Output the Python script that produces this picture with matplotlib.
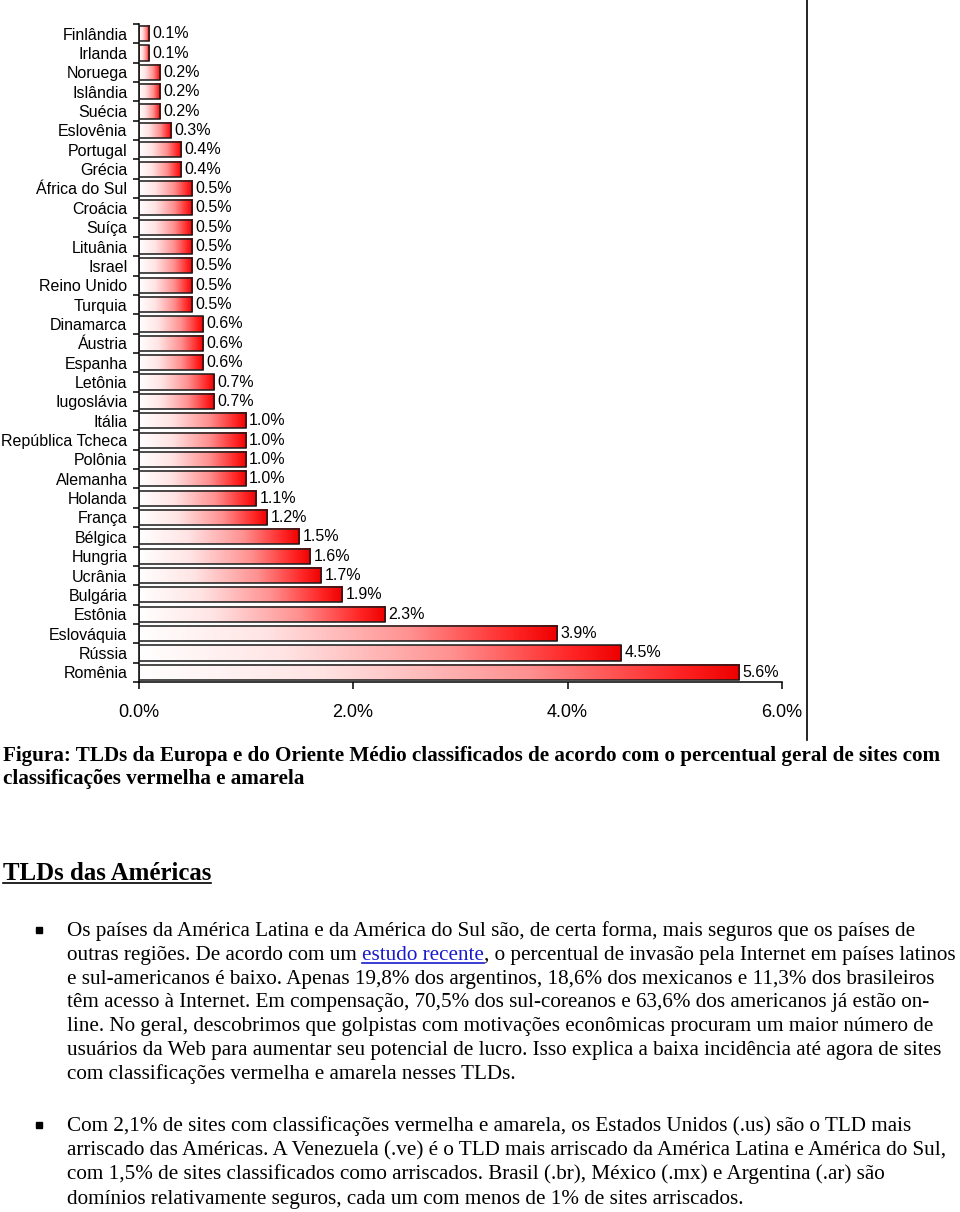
import matplotlib
matplotlib.use("Agg")
from matplotlib import pyplot as plt
from matplotlib.colors import LinearSegmentedColormap
from matplotlib.lines import Line2D
from matplotlib.patches import Rectangle
import numpy as np

# dados do gráfico
paises = ["Finlândia", "Irlanda", "Noruega", "Islândia", "Suécia", "Eslovênia",
          "Portugal", "Grécia", "África do Sul", "Croácia", "Suíça", "Lituânia",
          "Israel", "Reino Unido", "Turquia", "Dinamarca", "Áustria", "Espanha",
          "Letônia", "Iugoslávia", "Itália", "República Tcheca", "Polônia",
          "Alemanha", "Holanda", "França", "Bélgica", "Hungria", "Ucrânia",
          "Bulgária", "Estônia", "Eslováquia", "Rússia", "Romênia"]
percentual = [0.1, 0.1, 0.2, 0.2, 0.2, 0.3, 0.4, 0.4, 0.5, 0.5, 0.5, 0.5,
              0.5, 0.5, 0.5, 0.6, 0.6, 0.6, 0.7, 0.7, 1.0, 1.0, 1.0, 1.0,
              1.1, 1.2, 1.5, 1.6, 1.7, 1.9, 2.3, 3.9, 4.5, 5.6]
xticks = [0.0, 2.0, 4.0, 6.0]

legenda = ["Figura: TLDs da Europa e do Oriente Médio classificados de acordo com o percentual geral de sites com",
           "classificações vermelha e amarela"]
titulo = "TLDs das Américas"
item1 = ["Os países da América Latina e da América do Sul são, de certa forma, mais seguros que os países de",
         ["outras regiões. De acordo com um ", "estudo recente", ", o percentual de invasão pela Internet em países latinos"],
         "e sul-americanos é baixo. Apenas 19,8% dos argentinos, 18,6% dos mexicanos e 11,3% dos brasileiros",
         "têm acesso à Internet. Em compensação, 70,5% dos sul-coreanos e 63,6% dos americanos já estão on-",
         "line. No geral, descobrimos que golpistas com motivações econômicas procuram um maior número de",
         "usuários da Web para aumentar seu potencial de lucro. Isso explica a baixa incidência até agora de sites",
         "com classificações vermelha e amarela nesses TLDs."]
item2 = ["Com 2,1% de sites com classificações vermelha e amarela, os Estados Unidos (.us) são o TLD mais",
         "arriscado das Américas. A Venezuela (.ve) é o TLD mais arriscado da América Latina e América do Sul,",
         "com 1,5% de sites classificados como arriscados. Brasil (.br), México (.mx) e Argentina (.ar) são",
         "domínios relativamente seguros, cada um com menos de 1% de sites arriscados."]

W, H = 960, 1212
fig = plt.figure(figsize=(W / 100, H / 100), dpi=100)
fig.patch.set_facecolor("white")

# ---- gráfico de barras ----
L, R, T, B = 138.5, 782, 24, 682
ax = fig.add_axes([L / W, 1 - B / H, (R - L) / W, (B - T) / H])

cm = LinearSegmentedColormap.from_list("grad", [(0, "#ffffff"), (0.3, "#ffe4e4"),
                                                (0.65, "#ff9090"), (0.9, "#ff2424"),
                                                (1.0, "#ee0000")])
grad = np.linspace(0, 1, 256).reshape(1, -1)
h = 0.78
y = np.arange(len(paises))
for i, v in enumerate(percentual):
    ax.imshow(grad, extent=(0, v, i + h / 2, i - h / 2), aspect="auto", cmap=cm,
              interpolation="bilinear", zorder=2)
ax.barh(y, percentual, height=h, fill=False, edgecolor="#1a1a1a", linewidth=1.1, zorder=3)
for i, v in enumerate(percentual):
    ax.annotate(f"{v:.1f}%", (v, i), xytext=(2.5, 0), textcoords="offset points",
                va="center", ha="left", fontsize=11.5, family="Liberation Sans")

ax.set_xlim(0, 6)
ax.set_ylim(len(paises) - 0.5, -0.5)
for s in ["top", "right"]:
    ax.spines[s].set_visible(False)
for s in ["left", "bottom"]:
    ax.spines[s].set_linewidth(1.1)
ax.set_yticks(y)
ax.set_yticklabels(paises, fontsize=11.5, family="Liberation Sans")
ax.tick_params(axis="y", which="major", length=0, pad=8)
ax.set_yticks(np.arange(len(paises) + 1) - 0.5, minor=True)
ax.tick_params(axis="y", which="minor", length=4, width=1.1, direction="out")
ax.set_xticks(xticks)
ax.set_xticklabels([f"{t:.1f}%" for t in xticks], fontsize=13, family="Liberation Sans")
ax.tick_params(axis="x", length=5, width=1.1, pad=11)

fig.add_artist(Line2D([806.5 / W] * 2, [1, 1 - 740 / H], color="black", lw=1.2))

# ---- texto do documento ----
rend = fig.canvas.get_renderer()


def fit(s, largura, weight="normal"):
    t = fig.text(0, 0, s, fontsize=10, family="Liberation Serif", weight=weight)
    w = t.get_window_extent(rend).width
    t.remove()
    return 10 * largura / w


def put(x, yb, s, size, weight="normal", color="black", sub=False):
    t = fig.text(x / W, 1 - yb / H, s, fontsize=size, family="Liberation Serif",
                 weight=weight, color=color, va="baseline", ha="left")
    bb = t.get_window_extent(rend)
    if sub:
        yl = 1 - (yb + 3) / H
        fig.add_artist(Line2D([bb.x0 / W, bb.x1 / W], [yl, yl], color=color, lw=1.2))
    return bb.x1


fs_cap = fit(legenda[0], 945, "bold")
put(3, 761, legenda[0], fs_cap, "bold")
put(3, 784, legenda[1], fs_cap, "bold")

fs_tit = fit(titulo, 209, "bold")
put(3, 880, titulo, fs_tit, "bold", sub=True)

fs = fit(item1[0], 848)
for k, linha in enumerate(item1):
    yb = 936 + 23.8 * k
    if isinstance(linha, list):
        x = 67
        x = put(x, yb, linha[0], fs)
        x = put(x, yb, linha[1], fs, color="#1a1acc", sub=True)
        put(x, yb, linha[2], fs)
    else:
        put(67, yb, linha, fs)
for k, linha in enumerate(item2):
    put(67, 1131 + 24.2 * k, linha, fs)

for yc in [930, 1125]:
    fig.add_artist(Rectangle((36 / W, 1 - (yc + 3) / H), 6 / W, 6 / H,
                             transform=fig.transFigure, color="black"))

fig.savefig("out.png", dpi=100)
